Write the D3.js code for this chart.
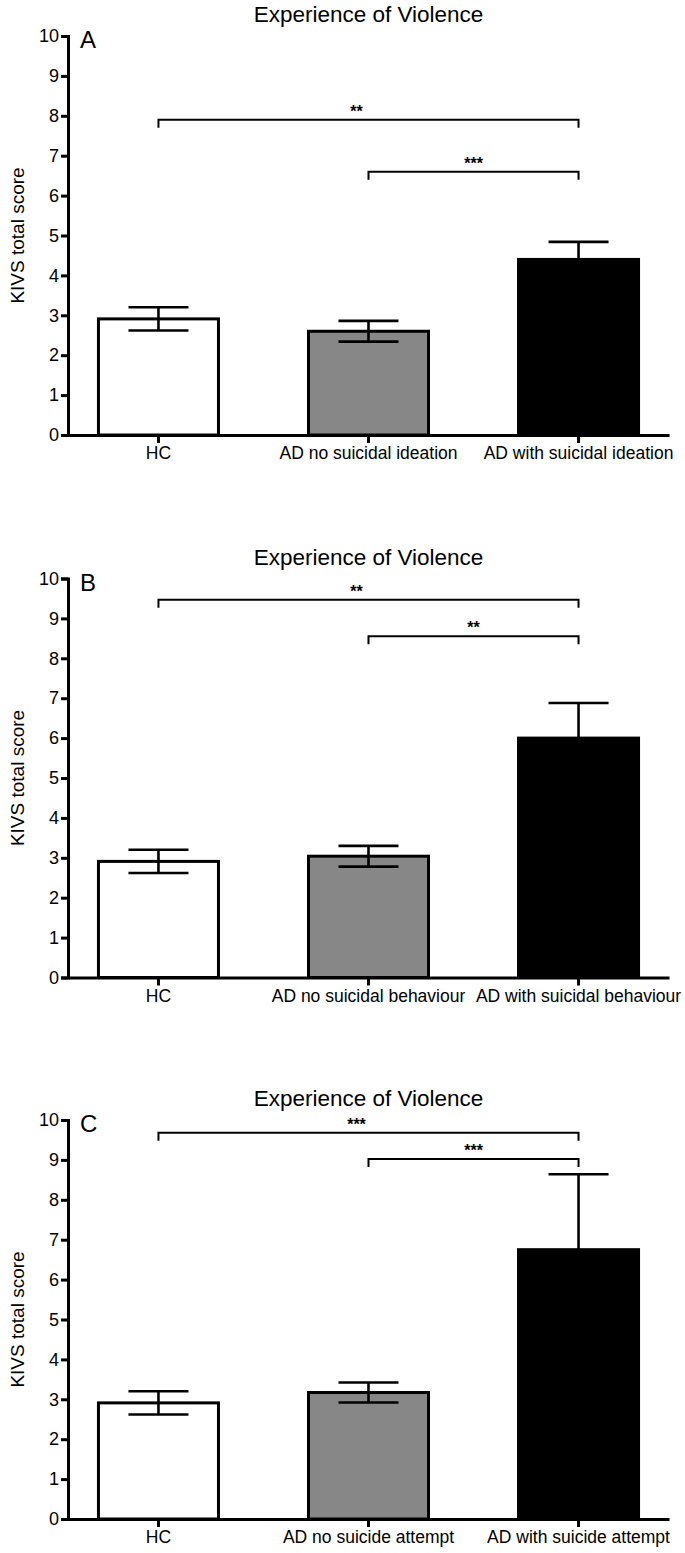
<!DOCTYPE html>
<html>
<head>
<meta charset="utf-8">
<script src="https://cdn.jsdelivr.net/npm/d3@7"></script>
<style>
  body { margin: 0; background: #fff; }
  svg text { font-family: "Liberation Sans", Arial, sans-serif; }
</style>
</head>
<body>
<div id="chart"></div>
<script>
// data (mean, SEM)
var titleText = "Experience of Violence";
var panelLabels = ["A", "B", "C"];
var categoriesA = ["HC", "AD no suicidal ideation", "AD with suicidal ideation"];
var categoriesB = ["HC", "AD no suicidal behaviour", "AD with suicidal behaviour"];
var categoriesC = ["HC", "AD no suicide attempt", "AD with suicide attempt"];
var meansA = [2.91, 2.60, 4.40];
var semA = [0.29, 0.26, 0.44];
var meansB = [2.91, 3.04, 6.00];
var semB = [0.29, 0.26, 0.88];
var meansC = [2.91, 3.17, 6.75];
var semC = [0.29, 0.25, 1.89];
// significance brackets: [from index, to index, height, stars]
var bracketsA = [[0, 2, 7.9, "**"], [1, 2, 6.6, "***"]];
var bracketsB = [[0, 2, 9.47, "**"], [1, 2, 8.55, "**"]];
var bracketsC = [[0, 2, 9.68, "***"], [1, 2, 9.02, "***"]];
var yTicks = [0, 1, 2, 3, 4, 5, 6, 7, 8, 9, 10];
var barColors = ["#ffffff", "#878787", "#000000"];

var FONT = "'Liberation Sans', Arial, sans-serif";
var width = 685, height = 1553;
var panelTops = [36, 578.5, 1120];
var plotH = 399;
var left = 68, right = 669;

var svg = d3.select("#chart").append("svg")
  .attr("width", width)
  .attr("height", height)
  .attr("font-family", FONT);

var panels = [
  {cats: categoriesA, means: meansA, sem: semA, brackets: bracketsA},
  {cats: categoriesB, means: meansB, sem: semB, brackets: bracketsB},
  {cats: categoriesC, means: meansC, sem: semC, brackets: bracketsC}
];

panels.forEach(function(p, i) {
  var g = svg.append("g").attr("transform", "translate(0," + panelTops[i] + ")");

  var x = d3.scaleBand()
    .domain(p.cats)
    .range([left, right])
    .paddingInner(0.4286)
    .paddingOuter(0.145);
  var y = d3.scaleLinear().domain([0, 10]).range([plotH, 0]);

  // title + panel letter
  g.append("text")
    .attr("x", (left + right) / 2)
    .attr("y", -14)
    .attr("text-anchor", "middle")
    .attr("font-family", FONT)
    .attr("font-size", 22.5)
    .text(titleText);
  g.append("text")
    .attr("x", 80)
    .attr("y", 12)
    .attr("font-family", FONT)
    .attr("font-size", 24)
    .text(panelLabels[i]);

  // y label
  g.append("text")
    .attr("transform", "translate(24," + (plotH / 2) + ") rotate(-90)")
    .attr("text-anchor", "middle")
    .attr("font-family", FONT)
    .attr("font-size", 19)
    .text("KIVS total score");

  var rows = p.cats.map(function(c, j) {
    return {cat: c, mean: p.means[j], sem: p.sem[j], fill: barColors[j]};
  });

  // bars
  g.selectAll("rect.bar")
    .data(rows)
    .enter()
    .append("rect")
    .attr("class", "bar")
    .attr("x", function(d) { return x(d.cat); })
    .attr("y", function(d) { return y(d.mean); })
    .attr("width", x.bandwidth())
    .attr("height", function(d) { return y(0) - y(d.mean); })
    .attr("fill", function(d) { return d.fill; })
    .attr("stroke", "#000")
    .attr("stroke-width", 3);

  // error bars
  var capW = x.bandwidth() / 2;
  var eb = g.selectAll("g.err")
    .data(rows)
    .enter()
    .append("g")
    .attr("class", "err")
    .attr("stroke", "#000")
    .attr("stroke-width", 2.6);
  eb.append("line")
    .attr("x1", function(d) { return x(d.cat) + x.bandwidth() / 2; })
    .attr("x2", function(d) { return x(d.cat) + x.bandwidth() / 2; })
    .attr("y1", function(d) { return y(d.mean - d.sem); })
    .attr("y2", function(d) { return y(d.mean + d.sem); });
  eb.append("line")
    .attr("x1", function(d) { return x(d.cat) + x.bandwidth() / 2 - capW / 2; })
    .attr("x2", function(d) { return x(d.cat) + x.bandwidth() / 2 + capW / 2; })
    .attr("y1", function(d) { return y(d.mean + d.sem); })
    .attr("y2", function(d) { return y(d.mean + d.sem); });
  eb.append("line")
    .attr("x1", function(d) { return x(d.cat) + x.bandwidth() / 2 - capW / 2; })
    .attr("x2", function(d) { return x(d.cat) + x.bandwidth() / 2 + capW / 2; })
    .attr("y1", function(d) { return y(d.mean - d.sem); })
    .attr("y2", function(d) { return y(d.mean - d.sem); });

  // significance brackets
  var br = g.selectAll("g.bracket")
    .data(p.brackets)
    .enter()
    .append("g")
    .attr("class", "bracket");
  br.append("path")
    .attr("fill", "none")
    .attr("stroke", "#000")
    .attr("stroke-width", 2)
    .attr("d", function(d) {
      var x1 = x(p.cats[d[0]]) + x.bandwidth() / 2;
      var x2 = x(p.cats[d[1]]) + x.bandwidth() / 2;
      var yy = y(d[2]);
      return "M" + x1 + "," + (yy + 8) + "V" + yy + "H" + x2 + "V" + (yy + 8);
    });
  br.append("text")
    .attr("x", function(d) {
      return (x(p.cats[d[0]]) + x(p.cats[d[1]]) + x.bandwidth()) / 2 - (d[0] === 0 ? 12 : 0);
    })
    .attr("y", function(d) { return y(d[2]) - 3; })
    .attr("text-anchor", "middle")
    .attr("font-family", FONT)
    .attr("font-size", 16)
    .attr("font-weight", "bold")
    .text(function(d) { return d[3]; });

  // axes
  var yAxis = g.append("g")
    .attr("transform", "translate(" + left + ",0)")
    .call(d3.axisLeft(y).tickValues(yTicks).tickSize(7).tickSizeOuter(7).tickPadding(2));
  var xAxis = g.append("g")
    .attr("transform", "translate(0," + plotH + ")")
    .call(d3.axisBottom(x).tickSize(8).tickSizeOuter(0).tickPadding(4));

  [yAxis, xAxis].forEach(function(a) {
    a.attr("font-family", FONT);
    a.selectAll("path, line").attr("stroke", "#000").attr("stroke-width", 3);
    a.selectAll("text").attr("fill", "#000").attr("font-family", FONT);
  });
  yAxis.selectAll("text").attr("font-size", 18);
  xAxis.selectAll("text").attr("font-size", 17.5);
});
</script>
</body>
</html>
